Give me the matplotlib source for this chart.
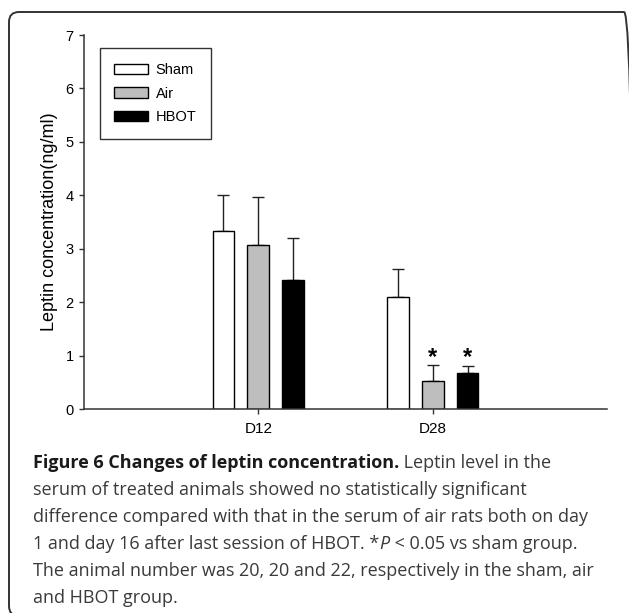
import numpy as np
import matplotlib.pyplot as plt
from matplotlib.patches import FancyBboxPatch
from matplotlib.transforms import IdentityTransform, offset_copy

days = ['D12', 'D28']
groups = ['Sham', 'Air', 'HBOT']
sham_mean = [3.33, 2.10]
sham_err = [0.67, 0.52]
air_mean = [3.08, 0.52]
air_err = [0.89, 0.31]
hbot_mean = [2.42, 0.68]
hbot_err = [0.78, 0.13]
# significance vs sham, per group per day
sig = {'Sham': [False, False], 'Air': [False, True], 'HBOT': [False, True]}

means = {'Sham': sham_mean, 'Air': air_mean, 'HBOT': hbot_mean}
errs = {'Sham': sham_err, 'Air': air_err, 'HBOT': hbot_err}
colors = {'Sham': 'white', 'Air': '#bebebe', 'HBOT': 'black'}

plt.rcParams['font.family'] = ['Liberation Sans', 'DejaVu Sans']

fig = plt.figure(figsize=(6.29, 6.13), dpi=100)
ax = fig.add_axes([0.1335, 0.3323, 0.8315, 0.6106])

x = np.arange(1, len(days) + 1)
width = 0.125
offset = 0.2
sig_y = max(air_mean[1] + air_err[1], hbot_mean[1] + hbot_err[1])
for i, g in enumerate(groups):
    xs = x + (i - 1) * offset
    m = np.array(means[g])
    e = np.array(errs[g])
    ax.bar(xs, m, width=width, color=colors[g], edgecolor='black', linewidth=1.0,
           label=g, zorder=2)
    ax.errorbar(xs, m, yerr=[np.zeros_like(e), e], fmt='none', ecolor='#222222',
                elinewidth=1.0, capsize=4, capthick=1.0, zorder=1)
    for j, s in enumerate(sig[g]):
        if s:
            tr = offset_copy(ax.transData, fig=fig, x=0, y=-3, units='points')
            ax.text(xs[j], sig_y, '*', ha='center', va='bottom',
                    fontsize=17, fontweight='bold', transform=tr)

ax.set_xlim(0, 3)
ax.set_ylim(0, 7)
ax.set_xticks(x)
ax.set_xticklabels(days, fontsize=11)
ax.set_yticks(range(0, 8))
ax.set_ylabel('Leptin concentration(ng/ml)', fontsize=13, labelpad=5)
ax.tick_params(axis='y', labelsize=10.5)
ax.tick_params(axis='both', length=3.5, width=1, color='#333333')
ax.tick_params(axis='y', pad=4)
ax.tick_params(axis='x', pad=6)
for s in ['top', 'right']:
    ax.spines[s].set_visible(False)
for s in ['left', 'bottom']:
    ax.spines[s].set_color('#333333')
    ax.spines[s].set_linewidth(1.1)

leg = ax.legend(loc='upper left', bbox_to_anchor=(0.03, 0.964), fontsize=10.5,
                fancybox=False, edgecolor='#333333', framealpha=1,
                borderpad=1.0, handlelength=2.3, handleheight=0.7,
                labelspacing=0.65, handletextpad=0.55, borderaxespad=0)
leg.get_frame().set_linewidth(1.0)

# rounded border around figure + caption
H = 613
box = FancyBboxPatch((9, -3), 625, H - 12 + 3, boxstyle='round,pad=0,rounding_size=10',
                     transform=IdentityTransform(), facecolor='none',
                     edgecolor='#333333', linewidth=1.4)
fig.patches.append(box)

# caption
cap_font = ['Open Sans', 'DejaVu Sans']
cap_size = 13
body_col = '#3a3a3a'
lines = [
    [('Figure 6 Changes of leptin concentration.', 'bold', 'normal', '#1a1a1a'),
     (' Leptin level in the', 'normal', 'normal', body_col)],
    [('serum of treated animals showed no statistically significant', 'normal', 'normal', body_col)],
    [('difference compared with that in the serum of air rats both on day', 'normal', 'normal', body_col)],
    [('1 and day 16 after last session of HBOT. *', 'normal', 'normal', body_col),
     ('P', 'normal', 'italic', body_col),
     (' < 0.05 vs sham group.', 'normal', 'normal', body_col)],
    [('The animal number was 20, 20 and 22, respectively in the sham, air', 'normal', 'normal', body_col)],
    [('and HBOT group.', 'normal', 'normal', body_col)],
]
renderer = fig.canvas.get_renderer()
x0 = 33
y_base = 468
step = 27
for k, parts in enumerate(lines):
    xp = x0
    yp = H - (y_base + k * step)
    for txt, wt, st, col in parts:
        t = fig.text(xp / 629, yp / H, txt, fontsize=cap_size, family=cap_font,
                     fontweight=wt, fontstyle=st, color=col, va='baseline', ha='left')
        bb = t.get_window_extent(renderer=renderer)
        xp = bb.x1

fig.savefig('out.png', dpi=100)
